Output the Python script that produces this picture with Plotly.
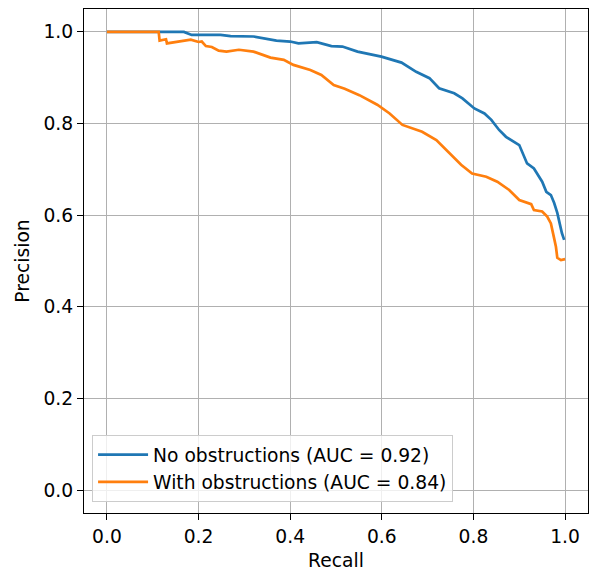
import plotly.graph_objects as go

# Precision-recall data
recall_no = [0.0, 0.168, 0.185, 0.248, 0.27, 0.32, 0.37, 0.40, 0.418, 0.458, 0.49, 0.514, 0.547,
             0.599, 0.643, 0.675, 0.704, 0.725, 0.758, 0.776, 0.802, 0.824, 0.839, 0.856, 0.871,
             0.900, 0.917, 0.932, 0.950, 0.959, 0.969, 0.976, 0.983, 0.989, 0.993, 0.998]
precision_no = [1.0, 1.0, 0.9935, 0.9935, 0.991, 0.990, 0.981, 0.979, 0.975, 0.9775, 0.969, 0.968, 0.957,
                0.946, 0.933, 0.913, 0.899, 0.877, 0.866, 0.855, 0.833, 0.822, 0.808, 0.786, 0.771,
                0.753, 0.713, 0.702, 0.673, 0.651, 0.644, 0.627, 0.605, 0.575, 0.561, 0.546]

recall_with = [0.0, 0.113, 0.115, 0.129, 0.131, 0.183, 0.200, 0.207, 0.216, 0.229, 0.244, 0.261,
               0.288, 0.320, 0.357, 0.386, 0.407, 0.444, 0.468, 0.495, 0.519, 0.551, 0.590, 0.617,
               0.645, 0.688, 0.719, 0.747, 0.773, 0.797, 0.828, 0.852, 0.878, 0.900, 0.926, 0.932,
               0.950, 0.961, 0.969, 0.976, 0.980, 0.983, 0.991, 1.0]
precision_with = [1.0, 1.0, 0.981, 0.984, 0.975, 0.983, 0.978, 0.979, 0.969, 0.967, 0.959, 0.957,
                  0.961, 0.957, 0.944, 0.939, 0.928, 0.917, 0.906, 0.884, 0.876, 0.862, 0.841, 0.822,
                  0.797, 0.782, 0.764, 0.735, 0.710, 0.691, 0.684, 0.673, 0.655, 0.633, 0.624, 0.611,
                  0.608, 0.597, 0.582, 0.550, 0.531, 0.507, 0.502, 0.504]

labels = ["No obstructions (AUC = 0.92)", "With obstructions (AUC = 0.84)"]
tick_vals = [0.0, 0.2, 0.4, 0.6, 0.8, 1.0]
tick_text = ["0.0", "0.2", "0.4", "0.6", "0.8", "1.0"]

FONT = "DejaVu Sans"
FS = 18.7

fig = go.Figure()
fig.add_trace(go.Scatter(x=recall_no, y=precision_no, mode="lines", name=labels[0],
                         line=dict(color="#1f77b4", width=2.7)))
fig.add_trace(go.Scatter(x=recall_with, y=precision_with, mode="lines", name=labels[1],
                         line=dict(color="#ff7f0e", width=2.7)))

axis_common = dict(
    range=[-0.05, 1.05], tickvals=tick_vals, ticktext=tick_text,
    showgrid=True, gridcolor="#b0b0b0", gridwidth=1.3,
    zeroline=False, showline=True, linecolor="black", linewidth=1.3, mirror=True,
    ticks="outside", ticklen=6, tickwidth=1.3, tickcolor="black",
    tickfont=dict(family=FONT, size=FS, color="black"),
    automargin=False,
)

fig.update_layout(
    width=592, height=572,
    margin=dict(l=84, r=4, t=9, b=59),
    paper_bgcolor="white", plot_bgcolor="white",
    font=dict(family=FONT, size=FS, color="black"),
    xaxis=dict(axis_common, title=dict(text="Recall", font=dict(family=FONT, size=FS), standoff=8)),
    yaxis=dict(axis_common, title=dict(text="Precision", font=dict(family=FONT, size=FS), standoff=8)),
    legend=dict(x=0.016, y=0.022, xanchor="left", yanchor="bottom",
                bgcolor="rgba(255,255,255,0.8)", bordercolor="#cccccc", borderwidth=1,
                font=dict(family=FONT, size=FS, color="black"),
                itemwidth=50, tracegroupgap=0),
    showlegend=True,
)

fig.write_html("out.html",
               config={"displayModeBar": False},
               post_script="document.body.style.margin='0';document.body.style.overflow='hidden';")
